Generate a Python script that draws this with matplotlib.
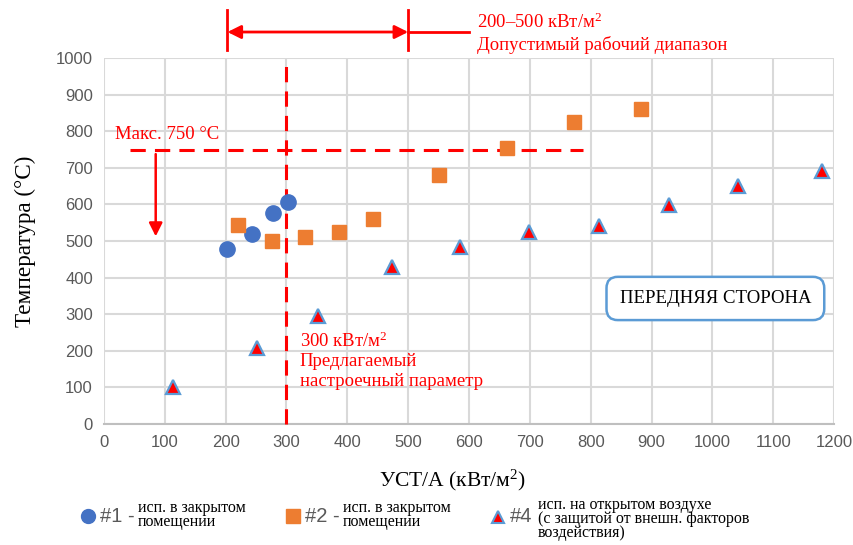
import matplotlib
matplotlib.use("Agg")
import matplotlib.pyplot as plt
from matplotlib.lines import Line2D

plt.rcParams["mathtext.fontset"] = "custom"
plt.rcParams["mathtext.rm"] = "Liberation Serif"
plt.rcParams["mathtext.it"] = "Liberation Serif:italic"
plt.rcParams["mathtext.bf"] = "Liberation Serif:bold"

# ---- data ----
s1_x = [202, 243, 278, 303]
s1_y = [477, 518, 576, 606]
s2_x = [221, 276, 331, 386, 442, 551, 662, 773, 883]
s2_y = [544, 499, 510, 524, 559, 680, 754, 825, 861]
s4_x = [114, 251, 352, 474, 586, 699, 813, 929, 1042, 1181]
s4_y = [102, 208, 295, 430, 484, 525, 541, 598, 650, 691]
x_ticks = list(range(0, 1201, 100))
y_ticks = list(range(0, 1001, 100))

RED = "#FF0000"
BLUE = "#4472C4"
ORANGE = "#ED7D31"
TRI_EDGE = "#5B9BD5"
GRID = "#D9D9D9"
TICK = "#595959"
SERIF = "Liberation Serif"
SANS = "Liberation Sans"
SQ = r"$^{\mathrm{2}}$"

fig = plt.figure(figsize=(8.54, 5.45), dpi=100)
ax = fig.add_axes([104/854, 1-424/545, 730/854, 366/545])
ax.set_xlim(0, 1200)
ax.set_ylim(0, 1000)
ax.set_xticks(x_ticks)
ax.set_yticks(y_ticks)
ax.grid(True, color=GRID, linewidth=1.5, zorder=0)
ax.set_axisbelow(True)
for s in ["top", "right", "left"]:
    ax.spines[s].set_visible(False)
ax.spines["bottom"].set_color("#BFBFBF")
ax.spines["bottom"].set_linewidth(1.5)
ax.tick_params(length=0, labelsize=12, labelcolor=TICK, pad=8)
for lab in ax.get_xticklabels() + ax.get_yticklabels():
    lab.set_fontfamily(SANS)

ax.set_xlabel("УСТ/А (кВт/м" + SQ + ")", fontfamily=SERIF, fontsize=15.5, labelpad=13, x=0.477)
ax.set_ylabel("Температура (°C)", fontfamily=SERIF, fontsize=16.7, labelpad=14)

# series
ax.plot(s1_x, s1_y, "o", color=BLUE, markersize=11, zorder=5, clip_on=False)
ax.plot(s2_x, s2_y, "s", color=ORANGE, markersize=10.5, zorder=5, clip_on=False)
ax.plot(s4_x, s4_y, "^", markerfacecolor=RED, markeredgecolor=TRI_EDGE,
        markeredgewidth=1.6, markersize=10, zorder=5, clip_on=False)

# annotations
ax.plot([300, 300], [0, 1000], color=RED, lw=2.2, ls=(0, (5, 3)), zorder=4, clip_on=False)
ax.plot([43, 787], [750, 750], color=RED, lw=2.2, ls=(0, (5, 3)), zorder=4)
ax.annotate("", xy=(85, 505), xytext=(85, 745),
            arrowprops=dict(arrowstyle="-|>", color=RED, lw=1.8, mutation_scale=20))
ax.text(18, 792, "Макс. 750 °C", color=RED, fontfamily=SERIF, fontsize=13.5, va="center")

ax.text(322, 225, "300 кВт/м" + SQ, color=RED, fontfamily=SERIF, fontsize=13.5, va="center")
ax.text(322, 170, "Предлагаемый", color=RED, fontfamily=SERIF, fontsize=13.5, va="center")
ax.text(322, 117, "настроечный параметр", color=RED, fontfamily=SERIF, fontsize=13.5, va="center")

# range arrow above plot
ax.plot([203, 203], [1022, 1131], color=RED, lw=2, clip_on=False)
ax.plot([500, 500], [1022, 1131], color=RED, lw=2, clip_on=False)
ax.annotate("", xy=(203, 1071), xytext=(500, 1071), annotation_clip=False,
            arrowprops=dict(arrowstyle="<|-|>", color=RED, lw=2, mutation_scale=20,
                            shrinkA=0, shrinkB=0))
ax.plot([500, 600], [1071, 1071], color=RED, lw=2, clip_on=False)
ax.text(613, 1098, "200–500 кВт/м" + SQ, color=RED, fontfamily=SERIF, fontsize=13.5,
        va="center", clip_on=False)
ax.text(613, 1036, "Допустимый рабочий диапазон", color=RED, fontfamily=SERIF,
        fontsize=13.5, va="center", clip_on=False)

# box
ax.text(1005, 343, "ПЕРЕДНЯЯ СТОРОНА", fontfamily=SERIF, fontsize=13.5, ha="center",
        va="center", zorder=6,
        bbox=dict(boxstyle="round,pad=0.7,rounding_size=0.6", facecolor="white",
                  edgecolor=TRI_EDGE, linewidth=1.8))

# legend (manual)
def fx(p):
    return p / 854
def fy(p):
    return 1 - p / 545

fig.add_artist(Line2D([fx(88)], [fy(516)], transform=fig.transFigure, marker="o",
                      color=BLUE, markersize=10, linestyle="none"))
fig.add_artist(Line2D([fx(293)], [fy(516)], transform=fig.transFigure, marker="s",
                      color=ORANGE, markersize=9.5, linestyle="none"))
fig.add_artist(Line2D([fx(498)], [fy(517)], transform=fig.transFigure, marker="^",
                      markerfacecolor=RED, markeredgecolor=TRI_EDGE, markeredgewidth=1.5,
                      markersize=9, linestyle="none"))
fig.text(fx(100), fy(517), "#1 -", fontfamily=SANS, fontsize=14.5, color=TICK, va="center")
fig.text(fx(305), fy(517), "#2 -", fontfamily=SANS, fontsize=14.5, color=TICK, va="center")
fig.text(fx(510), fy(517), "#4", fontfamily=SANS, fontsize=14.5, color=TICK, va="center")
fig.text(fx(138), fy(515), "исп. в закрытом\nпомещении", fontfamily=SERIF,
         fontsize=11.5, va="center", linespacing=0.8)
fig.text(fx(343), fy(515), "исп. в закрытом\nпомещении", fontfamily=SERIF,
         fontsize=11.5, va="center", linespacing=0.8)
fig.text(fx(538), fy(519), "исп. на открытом воздухе\n(с защитой от внешн. факторов\nвоздействия)",
         fontfamily=SERIF, fontsize=11.5, va="center", linespacing=0.8)

fig.savefig("out.png", dpi=100)
